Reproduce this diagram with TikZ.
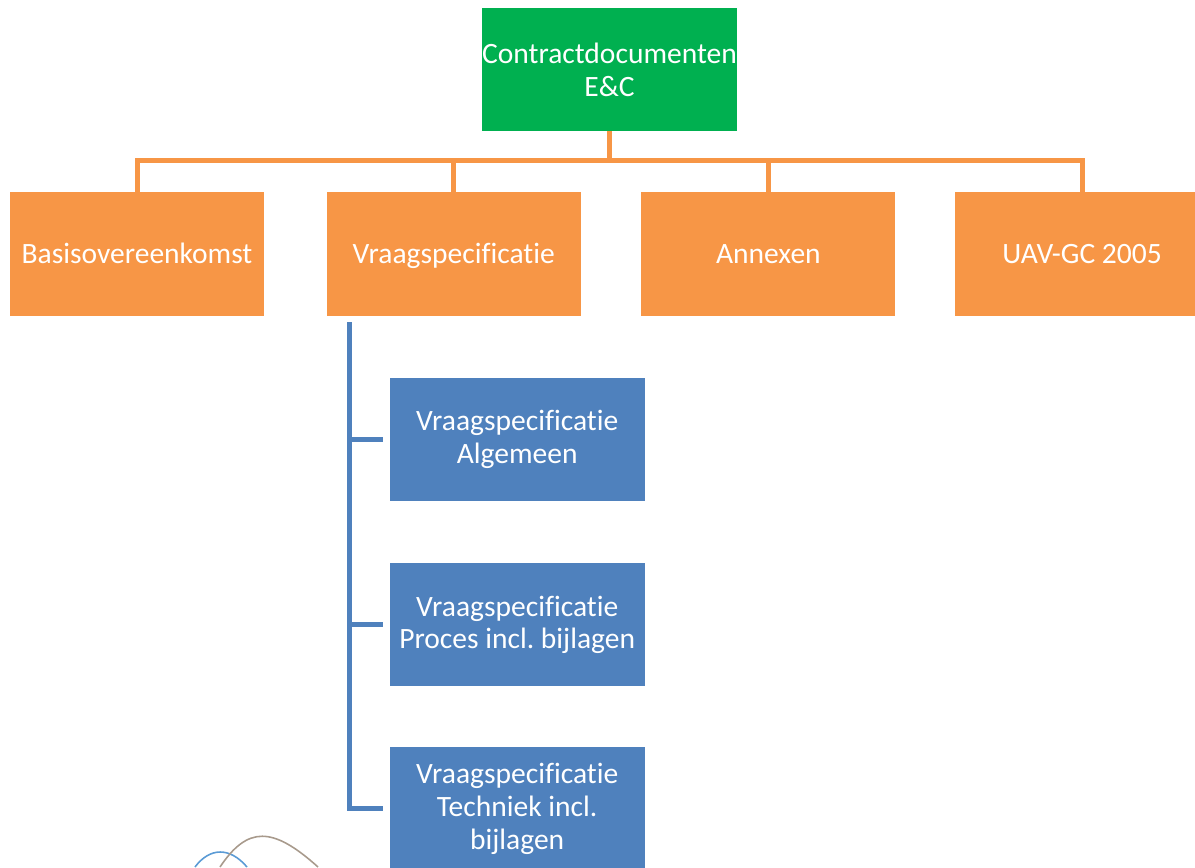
\documentclass[tikz,border=0pt]{standalone}
\usepackage{fontspec}
\setmainfont{Carlito}[RawFeature={-liga;-clig;-calt;-dlig}]
\usepackage{xcolor}
\usetikzlibrary{positioning,calc}
\frenchspacing

\definecolor{ecgreen}{HTML}{00B050}
\definecolor{ecorange}{HTML}{F79646}
\definecolor{ecblue}{HTML}{4F81BD}
\definecolor{wavegrey}{HTML}{A89A8C}
\definecolor{waveblue}{HTML}{5B9BD5}

\tikzset{
    gbox/.style={rectangle, fill=ecgreen, text=white, minimum width=5.1cm, minimum height=2.46cm, align=center, inner sep=0pt, font=\fontsize{16.8}{18.7}\selectfont},
    obox/.style={rectangle, fill=ecorange, text=white, minimum width=5.08cm, minimum height=2.48cm, align=center, inner sep=0pt, text height=10.8pt, text depth=0pt, font=\fontsize{16.8}{18.7}\selectfont},
    bbox/.style={rectangle, fill=ecblue, text=white, minimum width=5.1cm, minimum height=2.46cm, align=center, inner sep=0pt, font=\fontsize{16.8}{18.7}\selectfont},
    obus/.style={draw=ecorange, line width=0.1cm},
    bbus/.style={draw=ecblue, line width=0.1cm, shorten >=0.12cm}
}

\begin{document}
\begin{tikzpicture}
    \useasboundingbox (0,0) rectangle (23.9,-17.34);

    \node (root) [gbox] at (12.19,-1.39) {Contractdocumenten\\E\&C};
    \node (basis) [obox] at (2.74,-5.08) {Basisovereenkomst};
    \node (vraag) [obox, right=1.24cm of basis] {Vraagspecificatie};
    \node (annex) [obox, right=1.2cm of vraag] {Annexen};
    \node (uav) [obox, right=1.18cm of annex] {UAV-GC 2005};

    \node (alg) [bbox, below=1.22cm of vraag.south west, anchor=north west, xshift=1.26cm] {Vraagspecificatie\\Algemeen};
    \node (proc) [bbox, below=1.24cm of alg] {Vraagspecificatie\\Proces incl. bijlagen};
    \node (tech) [bbox, below=1.2cm of proc] {Vraagspecificatie\\Techniek incl.\\bijlagen};

    % orange tree
    \draw [obus] (root.south) -- ++(0,-0.58) -| (basis.north);
    \draw [obus] (root.south) -- ++(0,-0.58) -| (vraag.north);
    \draw [obus] (root.south) -- ++(0,-0.58) -| (annex.north);
    \draw [obus] (root.south) -- ++(0,-0.58) -| (uav.north);

    % blue tree
    \coordinate (trunk) at ([xshift=0.46cm, yshift=-0.12cm]vraag.south west);
    \draw [bbus] (trunk) |- (alg.west);
    \draw [bbus] (trunk) |- (proc.west);
    \draw [bbus] (trunk) |- (tech.west);

    % waves at the bottom
    \draw [waveblue, line width=0.9pt] (3.9,-17.34) .. controls (4.2,-16.94) and (4.6,-16.94) .. (4.94,-17.34);
    \draw [wavegrey, line width=0.9pt] (4.4,-17.34) .. controls (4.95,-16.52) and (5.45,-16.52) .. (6.36,-17.34);
\end{tikzpicture}
\end{document}
